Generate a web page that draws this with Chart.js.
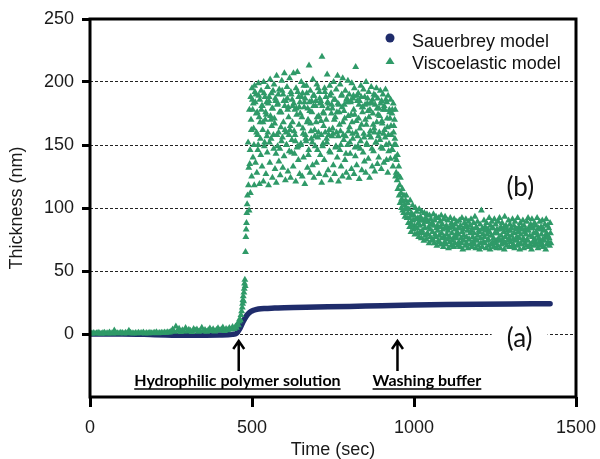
<!DOCTYPE html>
<html>
<head>
<meta charset="utf-8">
<script src="https://cdn.jsdelivr.net/npm/chart.js@4.4.1/dist/chart.umd.min.js"></script>
<style>
  html, body { margin: 0; padding: 0; background: #fff; }
</style>
</head>
<body>
<canvas id="graphe" width="600" height="459"></canvas>
<script>
// --- Données (temps en s, épaisseur en nm) ---
const nomsSeries = ['Sauerbrey model', 'Viscoelastic model'];
const ticksX = [0, 500, 1000, 1500];
const ticksY = [0, 50, 100, 150, 200, 250];

// Sauerbrey : courbe bleue continue
const sauerTemps = [0, 100, 200, 300, 400, 440, 452, 462, 472, 482, 492, 505, 520, 540, 570, 600, 700, 800, 900, 1000, 1100, 1200, 1300, 1420];
const sauerEpaisseur = [0, 0, -0.5, -1, -0.8, -0.3, 0.5, 4, 9.5, 14, 17, 18.8, 19.8, 20.3, 20.6, 20.9, 21.4, 21.9, 22.5, 23, 23.4, 23.7, 23.9, 24];

// Viscoélastique : ligne de base (0 à 440 s, toutes les 5 s)
const baseDebut = 0, basePas = 5;
const baseVals = [
  0.5, 0.3, 0.8, 0.4, 0.6, 1.0, 0.5, 0.2, 0.7, 0.9,
  0.4, 0.6, 1.2, 0.5, 0.3, 2.8, 0.8, 0.5, 0.6, 0.9,
  0.7, 0.4, 1.0, 0.6, 2.6, 0.9, 0.5, 0.3, 0.8, 0.6,
  0.9, 0.5, 0.7, 1.1, 0.4, 0.8, 0.6, 1.0, 0.5, 0.7,
  0.9, 1.3, 0.6, 0.8, 1.0, 0.7, 1.2, 0.9, 1.4, 1.1,
  2.0, 3.5, 1.8, 6.0, 2.5, 4.2, 1.6, 3.0, 2.2, 4.8,
  1.9, 3.4, 2.6, 1.5, 4.0, 2.8, 3.6, 1.8, 2.4, 5.0,
  2.1, 3.2, 1.7, 2.9, 4.4, 2.3, 3.8, 2.0, 3.1, 4.6,
  2.7, 3.5, 5.2, 2.4, 3.9, 3.0, 4.8, 3.6, 5.5
];

// Montée à l'injection du polymère
const monteeTemps = [445, 449, 452, 455, 458, 460, 462, 464, 466, 468, 470, 471, 472, 473, 474, 475, 476, 477, 478, 479, 480, 481, 482, 483, 484, 485, 486];
const monteeVals = [4, 6, 5, 8, 7, 10, 12, 11, 15, 18, 21, 24, 27, 30, 26, 33, 36, 40, 43, 38, 65, 77, 83, 88, 96, 103, 110];

// Plateau (toutes les 4 s) : quatre nappes décalées
const plateauPas = 4;
const plateauDebuts = [488, 489, 490, 491];
const plateauHaut = [
  152, 178, 188, 195, 183, 197, 190, 176, 199, 186,
  193, 181, 200, 188, 174, 196, 185, 202, 191, 179,
  198, 187, 205, 183, 194, 176, 201, 190, 207, 185,
  196, 180, 203, 192, 186, 207, 178, 195, 208, 188,
  184, 200, 191, 197, 187, 197, 179, 213, 193, 185,
  202, 189, 181, 198, 195, 192, 185, 220, 176, 195,
  188, 206, 183, 197, 191, 179, 200, 186, 194, 205,
  182, 198, 189, 203, 177, 193, 186, 201, 190, 184,
  199, 187, 195, 212, 189, 191, 185, 197, 180, 194,
  188, 200, 183, 192, 178, 196, 186, 190, 182, 195,
  187, 179, 193, 185, 190, 181, 194, 184, 189, 178,
  186, 175, 183, 170
];
const plateauCentre = [
  118, 135, 170, 186, 163, 192, 175, 158, 189, 168,
  178, 162, 191, 170, 184, 160, 188, 173, 165, 193,
  171, 185, 158, 190, 176, 164, 193, 168, 181, 160,
  187, 172, 162, 190, 168, 183, 158, 179, 192, 166,
  175, 188, 163, 180, 158, 191, 170, 184, 167, 176,
  189, 162, 185, 172, 160, 187, 169, 181, 165, 192,
  170, 184, 158, 189, 175, 163, 186, 172, 160, 183,
  176, 161, 190, 168, 182, 157, 187, 173, 164, 185,
  168, 189, 174, 160, 185, 171, 163, 188, 176, 159,
  182, 166, 187, 172, 161, 184, 175, 163, 189, 168,
  174, 160, 183, 169, 178, 162, 186, 171, 158, 176,
  165, 178, 160, 155
];
const plateauMilieu = [
  132, 146, 162, 178, 150, 184, 160, 146, 172, 155,
  181, 168, 149, 176, 157, 183, 152, 170, 179, 158,
  167, 143, 182, 160, 147, 176, 156, 185, 162, 150,
  178, 158, 165, 144, 181, 161, 153, 174, 149, 180,
  150, 172, 159, 184, 155, 168, 142, 177, 161, 152,
  181, 157, 168, 146, 173, 183, 158, 149, 175, 160,
  155, 179, 162, 144, 182, 159, 170, 148, 176, 157,
  166, 150, 180, 158, 171, 143, 184, 161, 152, 174,
  159, 178, 148, 169, 157, 182, 147, 166, 180, 156,
  170, 151, 177, 158, 183, 147, 166, 160, 152, 179,
  157, 173, 148, 167, 159, 178, 150, 164, 145, 171,
  158, 146, 165, 140
];
const plateauBas = [
  98, 112, 125, 140, 118, 136, 128, 150, 119, 142,
  133, 121, 152, 127, 144, 118, 136, 155, 124, 147,
  131, 120, 149, 137, 126, 153, 132, 141, 122, 150,
  129, 145, 124, 154, 133, 143, 121, 148, 138, 127,
  151, 125, 140, 119, 153, 132, 146, 128, 155, 134,
  124, 149, 136, 156, 127, 142, 120, 151, 138, 126,
  152, 130, 145, 122, 157, 134, 127, 149, 140, 121,
  146, 133, 125, 154, 138, 128, 150, 124, 143, 131,
  155, 127, 141, 134, 149, 123, 153, 130, 144, 137,
  128, 150, 139, 124, 156, 133, 145, 129, 152, 135,
  140, 154, 131, 147, 136, 156, 138, 128, 151, 139,
  146, 133, 150, 125
];

// Chute au rinçage
const chuteTemps = [942, 944, 945, 946, 948, 949, 950, 952, 953, 954, 956, 957, 958, 960, 961, 962, 964, 965, 966, 968, 969, 970, 972, 973, 974];
const chuteVals = [178, 150, 128, 138, 122, 142, 115, 126, 133, 110, 118, 104, 124, 112, 100, 107, 115, 98, 105, 96, 110, 102, 93, 99, 106];

// Palier final (toutes les 4 s, jusqu'à 1420 s)
const palierPas = 4;
const palierDebuts = [976, 977.3, 978.6];
const palierHaut = [
  110, 104, 99, 106, 96, 102, 94, 100, 97, 92,
  99, 93, 97, 90, 96, 92, 95, 89, 94, 91,
  88, 95, 90, 93, 86, 92, 89, 94, 87, 91,
  93, 86, 90, 84, 92, 88, 85, 91, 87, 89,
  84, 90, 86, 92, 83, 88, 91, 85, 89, 86,
  91, 84, 88, 93, 85, 89, 82, 87, 98, 84,
  90, 85, 88, 83, 92, 86, 89, 84, 91, 87,
  83, 89, 92, 85, 88, 84, 93, 86, 82, 90,
  87, 84, 91, 86, 89, 83, 92, 85, 88, 84,
  90, 86, 83, 89, 92, 85, 87, 91, 84, 88,
  86, 92, 84, 89, 85, 90, 83, 87, 91, 86,
  84, 88
];
const palierMilieu = [
  100, 96, 92, 88, 94, 90, 86, 91, 84, 88,
  86, 90, 82, 87, 84, 89, 80, 85, 83, 87,
  81, 86, 79, 84, 82, 78, 85, 80, 83, 77,
  84, 79, 82, 77, 85, 80, 76, 83, 78, 81,
  79, 84, 76, 81, 78, 85, 77, 82, 75, 80,
  82, 77, 80, 75, 84, 78, 81, 76, 83, 79,
  77, 82, 79, 75, 81, 78, 84, 76, 80, 74,
  80, 76, 83, 78, 75, 81, 77, 84, 79, 76,
  82, 78, 75, 80, 84, 77, 81, 76, 79, 83,
  76, 81, 79, 75, 82, 78, 84, 77, 80, 75,
  81, 78, 76, 83, 79, 75, 82, 77, 80, 78,
  76, 80
];
const palierBas = [
  92, 88, 85, 81, 86, 83, 79, 84, 80, 77,
  81, 76, 80, 74, 78, 75, 79, 72, 77, 74,
  75, 72, 77, 70, 74, 73, 71, 76, 69, 73,
  71, 75, 68, 73, 70, 74, 69, 72, 76, 70,
  73, 69, 72, 67, 74, 70, 72, 68, 75, 71,
  69, 73, 71, 68, 74, 70, 67, 72, 69, 73,
  72, 68, 74, 70, 67, 71, 73, 69, 72, 68,
  70, 74, 68, 71, 73, 67, 72, 70, 74, 69,
  73, 69, 71, 68, 74, 70, 72, 67, 71, 74,
  68, 72, 70, 74, 69, 71, 67, 73, 70, 72,
  71, 68, 73, 70, 72, 69, 74, 67, 71, 73,
  70, 72
];

// Annotations (textes de la figure)
const evenements = [
  { temps: 459, texte: 'Hydrophilic polymer solution', centreTexte: 455 },
  { temps: 949, texte: 'Washing buffer', centreTexte: 1040 }
];
const etiquettesCourbes = [
  { texte: '(a)', temps: 1326, valeur: -4, grille: 0 },
  { texte: '(b)', temps: 1328, valeur: 116, grille: 100 }
];

const bleu = '#1f2c6b';
const vert = '#2f9a68';
const police = '"Liberation Sans", Arial, sans-serif';

// Construit des points {x, y}
const segment = (debut, pas, vals) => vals.map((v, i) => ({ x: debut + i * pas, y: v }));
const paires = (temps, vals) => temps.map((t, i) => ({ x: t, y: vals[i] }));

const pointsVisco = [
  ...segment(baseDebut, basePas, baseVals),
  ...paires(monteeTemps, monteeVals),
  ...[plateauHaut, plateauCentre, plateauMilieu, plateauBas].flatMap((vals, k) => segment(plateauDebuts[k], plateauPas, vals)),
  ...paires(chuteTemps, chuteVals),
  ...[palierHaut, palierMilieu, palierBas].flatMap((vals, k) => segment(palierDebuts[k], palierPas, vals))
];

// Cadre, légende, flèches et étiquettes
const decor = {
  id: 'decor',
  beforeDatasetsDraw(chart) {
    const { ctx, scales: { x, y } } = chart;
    ctx.save();
    ctx.fillStyle = '#fff';
    // coupure des pointillés derrière (a) et (b)
    etiquettesCourbes.forEach(e => {
      const cx = x.getPixelForValue(e.temps);
      ctx.fillRect(cx - 28, y.getPixelForValue(e.grille) - 3, 56, 6);
    });
    ctx.restore();
  },
  afterDraw(chart) {
    const { ctx, chartArea: a, scales: { x, y } } = chart;
    ctx.save();

    // cadre noir épais
    ctx.strokeStyle = '#000';
    ctx.lineWidth = 3;
    ctx.strokeRect(a.left, a.top, a.right - a.left, a.bottom - a.top);

    // légende dans le coin haut droit
    const lx = a.right - 186;
    ctx.fillStyle = bleu;
    ctx.beginPath();
    ctx.arc(lx, a.top + 19, 4.5, 0, Math.PI * 2);
    ctx.fill();
    ctx.fillStyle = vert;
    ctx.beginPath();
    ctx.moveTo(lx, a.top + 38);
    ctx.lineTo(lx + 4.5, a.top + 45);
    ctx.lineTo(lx - 4.5, a.top + 45);
    ctx.closePath();
    ctx.fill();
    ctx.fillStyle = '#111';
    ctx.font = '18px ' + police;
    ctx.textAlign = 'left';
    ctx.textBaseline = 'alphabetic';
    ctx.fillText(nomsSeries[0], lx + 22, a.top + 27.5);
    ctx.fillText(nomsSeries[1], lx + 22, a.top + 49.5);

    // flèches et textes soulignés
    const yPointe = y.getPixelForValue(0) + 6;
    evenements.forEach(ev => {
      const px = x.getPixelForValue(ev.temps);
      ctx.strokeStyle = '#000';
      ctx.lineWidth = 2.5;
      ctx.beginPath();
      ctx.moveTo(px, yPointe + 1);
      ctx.lineTo(px, yPointe + 31);
      ctx.moveTo(px - 5.5, yPointe + 9);
      ctx.lineTo(px, yPointe + 1);
      ctx.lineTo(px + 5.5, yPointe + 9);
      ctx.stroke();

      ctx.font = 'bold 16px Lato, sans-serif';
      ctx.fillStyle = '#000';
      ctx.textAlign = 'center';
      const cx = x.getPixelForValue(ev.centreTexte);
      const base = yPointe + 46;
      ctx.fillText(ev.texte, cx, base);
      const w = ctx.measureText(ev.texte).width;
      ctx.lineWidth = 1.3;
      ctx.beginPath();
      ctx.moveTo(cx - w / 2, base + 3);
      ctx.lineTo(cx + w / 2, base + 3);
      ctx.stroke();
    });

    // (a) et (b)
    ctx.font = '26px Lato, sans-serif';
    ctx.fillStyle = '#111';
    ctx.textAlign = 'center';
    ctx.textBaseline = 'middle';
    etiquettesCourbes.forEach(e => {
      ctx.fillText(e.texte, x.getPixelForValue(e.temps), y.getPixelForValue(e.valeur));
    });
    ctx.restore();
  }
};

new Chart(document.getElementById('graphe').getContext('2d'), {
  type: 'scatter',
  data: {
    datasets: [
      {
        label: nomsSeries[0],
        data: paires(sauerTemps, sauerEpaisseur),
        showLine: true,
        borderColor: bleu,
        backgroundColor: bleu,
        borderWidth: 5.5,
        borderCapStyle: 'round',
        cubicInterpolationMode: 'monotone',
        pointRadius: 0,
        order: 1
      },
      {
        label: nomsSeries[1],
        data: pointsVisco,
        pointStyle: 'triangle',
        pointRadius: 4,
        pointBorderWidth: 0,
        backgroundColor: vert,
        borderColor: vert,
        order: 0
      }
    ]
  },
  options: {
    responsive: false,
    animation: false,
    layout: { padding: { top: 19, right: 24, left: 0, bottom: 0 } },
    plugins: { legend: { display: false }, tooltip: { enabled: false } },
    scales: {
      x: {
        type: 'linear',
        min: 0, max: 1500,
        afterBuildTicks: s => { s.ticks = ticksX.map(v => ({ value: v })); },
        afterFit: s => { s.height = 62; s.paddingLeft = 0; s.paddingRight = 0; },
        ticks: { color: '#1a1a1a', font: { family: police, size: 18 }, padding: 10, callback: v => String(v) },
        grid: { drawOnChartArea: false, tickLength: 10, tickWidth: 3, tickColor: '#000' },
        border: { display: false },
        title: { display: true, text: 'Time (sec)', color: '#1a1a1a', font: { family: police, size: 18, lineHeight: 1 }, padding: { top: 0, bottom: 0 } }
      },
      y: {
        min: -50, max: 250,
        afterBuildTicks: s => { s.ticks = ticksY.map(v => ({ value: v })); },
        afterFit: s => { s.width = 90; s.paddingTop = 0; s.paddingBottom = 0; },
        ticks: { color: '#1a1a1a', font: { family: police, size: 18 }, padding: 8, callback: v => String(v) },
        grid: {
          color: c => (c.tick && c.tick.value <= 200) ? '#222' : 'rgba(0,0,0,0)',
          lineWidth: 1,
          tickLength: 8, tickWidth: 3, tickColor: '#000'
        },
        border: { display: false, dash: [3, 2] },
        title: { display: true, text: 'Thickness (nm)', color: '#1a1a1a', font: { family: police, size: 18 }, padding: { top: 6, bottom: 0 } }
      }
    }
  },
  plugins: [decor]
});
</script>
</body>
</html>
